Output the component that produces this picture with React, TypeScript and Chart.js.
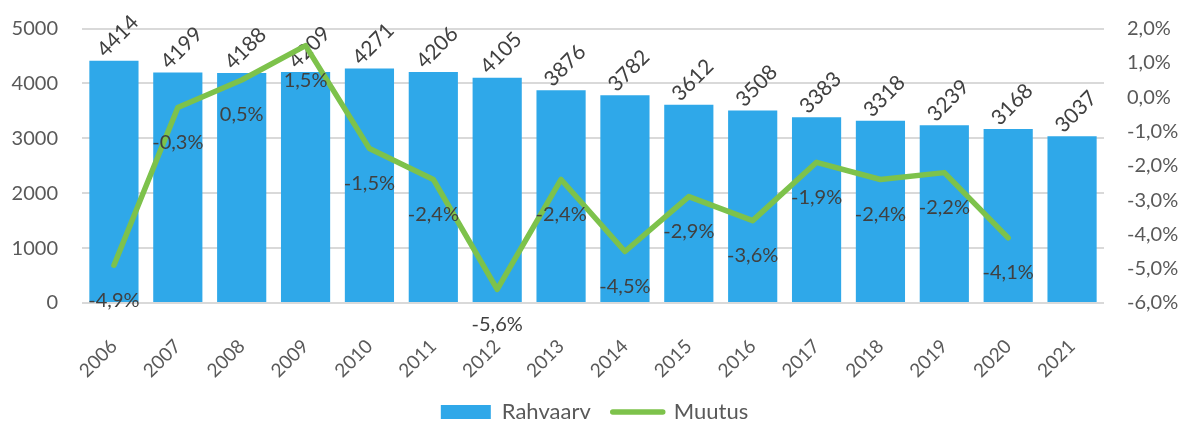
import React, { useEffect, useRef } from "react";
import { Chart, registerables } from "chart.js";

Chart.register(...registerables);

const years = ["2006","2007","2008","2009","2010","2011","2012","2013","2014","2015","2016","2017","2018","2019","2020","2021"];
const population = [4414, 4199, 4188, 4209, 4271, 4206, 4105, 3876, 3782, 3612, 3508, 3383, 3318, 3239, 3168, 3037];
const change = [-4.9, -0.3, 0.5, 1.5, -1.5, -2.4, -5.6, -2.4, -4.5, -2.9, -3.6, -1.9, -2.4, -2.2, -4.1, null];
const leftTicks = [0, 1000, 2000, 3000, 4000, 5000];
const rightTicks = [-6, -5, -4, -3, -2, -1, 0, 1, 2];

const BLUE = "#2FA8E9";
const GREEN = "#7DC24B";
const AXIS_TEXT = "#595959";
const LABEL_TEXT = "#404040";
const FONT = "Lato";

const fmtPct = (v: number) => v.toFixed(1).replace(".", ",") + "%";

const labelPlugin = {
  id: "valueLabels",
  afterDatasetDraw(chart: any, args: any) {
    const ctx = chart.ctx;
    const meta = args.meta;
    ctx.save();
    ctx.font = `21px ${FONT}`;
    ctx.fillStyle = LABEL_TEXT;
    if (args.index === 0) {
      meta.data.forEach((el: any, i: number) => {
        const txt = String(population[i]);
        const w = ctx.measureText(txt).width;
        const h = 15;
        const half = ((w + h) * Math.SQRT1_2) / 2;
        ctx.save();
        ctx.translate(el.x + 4, el.y - 2 - half);
        ctx.rotate(-Math.PI / 4);
        ctx.textAlign = "center";
        ctx.textBaseline = "middle";
        ctx.fillText(txt, 0, 0);
        ctx.restore();
      });
    } else if (args.index === 1) {
      ctx.font = `20px ${FONT}`;
      meta.data.forEach((el: any, i: number) => {
        const v = change[i];
        if (v === null || v === undefined) return;
        ctx.textAlign = "center";
        ctx.textBaseline = "middle";
        ctx.fillText(fmtPct(v), el.x, el.y + 35);
      });
    }
    ctx.restore();
  },
};

export default function App() {
  const ref = useRef<HTMLCanvasElement | null>(null);
  useEffect(() => {
    document.body.style.margin = "0";
    const canvas = ref.current;
    if (!canvas) return;
    const chart = new Chart(canvas, {
      type: "bar",
      data: {
        labels: years,
        datasets: [
          {
            type: "bar",
            label: "Rahvaarv",
            data: population,
            backgroundColor: BLUE,
            borderWidth: 0,
            yAxisID: "y",
            order: 1,
            barPercentage: 0.77,
            categoryPercentage: 1,
          },
          {
            type: "line",
            label: "Muutus",
            data: change as any,
            borderColor: GREEN,
            backgroundColor: GREEN,
            borderWidth: 5.5,
            pointRadius: 0,
            tension: 0,
            yAxisID: "y1",
            order: 0,
            borderCapStyle: "round",
            borderJoinStyle: "round",
          } as any,
        ],
      },
      options: {
        animation: false,
        responsive: true,
        maintainAspectRatio: false,
        layout: { padding: { top: 28.5, left: 0, right: 0, bottom: -11 } },
        plugins: {
          tooltip: { enabled: false },
          legend: {
            position: "bottom",
            labels: {
              usePointStyle: true,
              pointStyleWidth: 50,
              boxHeight: 14,
              padding: 22,
              color: AXIS_TEXT,
              font: { family: FONT, size: 22 },
              sort: (a: any, b: any) => a.datasetIndex - b.datasetIndex,
              generateLabels(chart: any) {
                const items = Chart.defaults.plugins.legend.labels.generateLabels(chart);
                return items.map((it: any) => {
                  if (it.datasetIndex === 0) {
                    return { ...it, pointStyle: "rect", lineWidth: 0, fillStyle: BLUE, strokeStyle: BLUE };
                  }
                  return { ...it, pointStyle: "line", lineWidth: 5.5, strokeStyle: GREEN, fillStyle: GREEN, lineCap: "round" };
                });
              },
            },
          },
        },
        scales: {
          x: {
            offset: true,
            grid: { display: false },
            border: { display: false },
            ticks: {
              color: AXIS_TEXT,
              font: { family: FONT, size: 19 },
              minRotation: 45,
              maxRotation: 45,
              autoSkip: false,
              padding: 24,
            },
            afterFit(scale: any) {
              scale.height = 76;
            },
          },
          y: {
            position: "left",
            min: 0,
            max: 5000,
            afterBuildTicks(scale: any) {
              scale.ticks = leftTicks.map((v) => ({ value: v }));
            },
            grid: { color: "#D9D9D9", lineWidth: 2, drawTicks: false },
            border: { display: false },
            ticks: {
              color: AXIS_TEXT,
              font: { family: FONT, size: 20 },
              padding: 24,
              callback: (v: any) => String(v),
            },
            afterFit(scale: any) {
              scale.width = 82;
              scale.paddingTop = 0;
              scale.paddingBottom = 0;
            },
          },
          y1: {
            position: "right",
            min: -6,
            max: 2,
            afterBuildTicks(scale: any) {
              scale.ticks = rightTicks.map((v) => ({ value: v }));
            },
            grid: { display: false, drawTicks: false },
            border: { display: false },
            ticks: {
              color: AXIS_TEXT,
              font: { family: FONT, size: 20 },
              padding: 23,
              callback: (v: any) => fmtPct(Number(v)),
            },
            afterFit(scale: any) {
              scale.width = 85;
              scale.paddingTop = 0;
              scale.paddingBottom = 0;
            },
          },
        },
      },
      plugins: [labelPlugin],
    });
    return () => chart.destroy();
  }, []);

  return (
    <div style={{ width: "1189px", height: "422px", position: "relative", background: "#fff" }}>
      <canvas ref={ref} />
    </div>
  );
}
